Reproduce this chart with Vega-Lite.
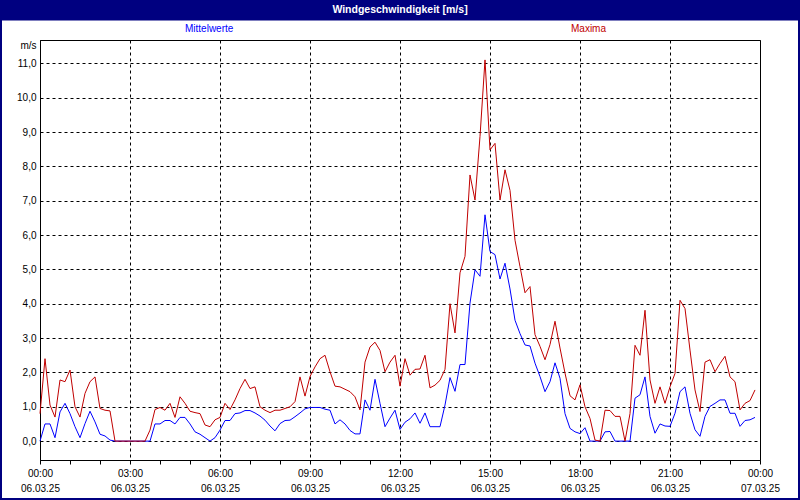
{
  "$schema": "https://vega.github.io/schema/vega-lite/v6.json",
  "autosize": {"type": "none"},
  "padding": {"left": 40, "top": 40, "right": 40, "bottom": 40},
  "width": 720,
  "height": 420,
  "background": "white",
  "config": {
    "font": "Liberation Sans",
    "view": {"stroke": "black", "strokeWidth": 1, "fill": "white"}
  },
  "layer": [
    {
      "data": {"values": [
        {"t":"2025-03-06 00:00","Mittelwerte":0,"Maxima":0.8},
        {"t":"2025-03-06 00:10","Mittelwerte":0.5,"Maxima":2.4},
        {"t":"2025-03-06 00:20","Mittelwerte":0.5,"Maxima":1.05},
        {"t":"2025-03-06 00:30","Mittelwerte":0.1,"Maxima":0.7},
        {"t":"2025-03-06 00:40","Mittelwerte":0.85,"Maxima":1.78},
        {"t":"2025-03-06 00:50","Mittelwerte":1.1,"Maxima":1.73},
        {"t":"2025-03-06 01:00","Mittelwerte":0.8,"Maxima":2.07},
        {"t":"2025-03-06 01:10","Mittelwerte":0.42,"Maxima":1.0},
        {"t":"2025-03-06 01:20","Mittelwerte":0.1,"Maxima":0.7},
        {"t":"2025-03-06 01:30","Mittelwerte":0.51,"Maxima":1.39},
        {"t":"2025-03-06 01:40","Mittelwerte":0.87,"Maxima":1.73},
        {"t":"2025-03-06 01:50","Mittelwerte":0.56,"Maxima":1.87},
        {"t":"2025-03-06 02:00","Mittelwerte":0.2,"Maxima":0.95},
        {"t":"2025-03-06 02:10","Mittelwerte":0.15,"Maxima":0.9},
        {"t":"2025-03-06 02:20","Mittelwerte":0.03,"Maxima":0.88},
        {"t":"2025-03-06 02:30","Mittelwerte":0,"Maxima":0},
        {"t":"2025-03-06 02:40","Mittelwerte":0,"Maxima":0},
        {"t":"2025-03-06 02:50","Mittelwerte":0,"Maxima":0},
        {"t":"2025-03-06 03:00","Mittelwerte":0,"Maxima":0},
        {"t":"2025-03-06 03:10","Mittelwerte":0,"Maxima":0},
        {"t":"2025-03-06 03:20","Mittelwerte":0,"Maxima":0},
        {"t":"2025-03-06 03:30","Mittelwerte":0,"Maxima":0},
        {"t":"2025-03-06 03:40","Mittelwerte":0,"Maxima":0.32},
        {"t":"2025-03-06 03:50","Mittelwerte":0.5,"Maxima":0.92},
        {"t":"2025-03-06 04:00","Mittelwerte":0.5,"Maxima":0.98},
        {"t":"2025-03-06 04:10","Mittelwerte":0.6,"Maxima":0.9},
        {"t":"2025-03-06 04:20","Mittelwerte":0.6,"Maxima":1.1},
        {"t":"2025-03-06 04:30","Mittelwerte":0.5,"Maxima":0.69},
        {"t":"2025-03-06 04:40","Mittelwerte":0.69,"Maxima":1.29},
        {"t":"2025-03-06 04:50","Mittelwerte":0.69,"Maxima":1.1},
        {"t":"2025-03-06 05:00","Mittelwerte":0.5,"Maxima":0.87},
        {"t":"2025-03-06 05:10","Mittelwerte":0.27,"Maxima":0.83},
        {"t":"2025-03-06 05:20","Mittelwerte":0.2,"Maxima":0.8},
        {"t":"2025-03-06 05:30","Mittelwerte":0.1,"Maxima":0.47},
        {"t":"2025-03-06 05:40","Mittelwerte":0,"Maxima":0.42},
        {"t":"2025-03-06 05:50","Mittelwerte":0.1,"Maxima":0.62},
        {"t":"2025-03-06 06:00","Mittelwerte":0.32,"Maxima":0.69},
        {"t":"2025-03-06 06:10","Mittelwerte":0.6,"Maxima":1.1},
        {"t":"2025-03-06 06:20","Mittelwerte":0.6,"Maxima":0.92},
        {"t":"2025-03-06 06:30","Mittelwerte":0.8,"Maxima":1.2},
        {"t":"2025-03-06 06:40","Mittelwerte":0.82,"Maxima":1.53},
        {"t":"2025-03-06 06:50","Mittelwerte":0.89,"Maxima":1.8},
        {"t":"2025-03-06 07:00","Mittelwerte":0.89,"Maxima":1.53},
        {"t":"2025-03-06 07:10","Mittelwerte":0.82,"Maxima":1.58},
        {"t":"2025-03-06 07:20","Mittelwerte":0.73,"Maxima":1.0},
        {"t":"2025-03-06 07:30","Mittelwerte":0.61,"Maxima":0.9},
        {"t":"2025-03-06 07:40","Mittelwerte":0.44,"Maxima":0.83},
        {"t":"2025-03-06 07:50","Mittelwerte":0.3,"Maxima":0.9},
        {"t":"2025-03-06 08:00","Mittelwerte":0.51,"Maxima":0.9},
        {"t":"2025-03-06 08:10","Mittelwerte":0.6,"Maxima":0.95},
        {"t":"2025-03-06 08:20","Mittelwerte":0.61,"Maxima":1.0},
        {"t":"2025-03-06 08:30","Mittelwerte":0.71,"Maxima":1.15},
        {"t":"2025-03-06 08:40","Mittelwerte":0.82,"Maxima":1.87},
        {"t":"2025-03-06 08:50","Mittelwerte":0.94,"Maxima":1.31},
        {"t":"2025-03-06 09:00","Mittelwerte":0.98,"Maxima":1.88},
        {"t":"2025-03-06 09:10","Mittelwerte":0.98,"Maxima":2.16},
        {"t":"2025-03-06 09:20","Mittelwerte":0.98,"Maxima":2.4},
        {"t":"2025-03-06 09:30","Mittelwerte":0.93,"Maxima":2.5},
        {"t":"2025-03-06 09:40","Mittelwerte":0.9,"Maxima":2.02},
        {"t":"2025-03-06 09:50","Mittelwerte":0.5,"Maxima":1.6},
        {"t":"2025-03-06 10:00","Mittelwerte":0.62,"Maxima":1.58},
        {"t":"2025-03-06 10:10","Mittelwerte":0.5,"Maxima":1.51},
        {"t":"2025-03-06 10:20","Mittelwerte":0.31,"Maxima":1.44},
        {"t":"2025-03-06 10:30","Mittelwerte":0.21,"Maxima":1.29},
        {"t":"2025-03-06 10:40","Mittelwerte":0.21,"Maxima":0.91},
        {"t":"2025-03-06 10:50","Mittelwerte":1.2,"Maxima":2.3},
        {"t":"2025-03-06 11:00","Mittelwerte":0.9,"Maxima":2.74},
        {"t":"2025-03-06 11:10","Mittelwerte":1.8,"Maxima":2.88},
        {"t":"2025-03-06 11:20","Mittelwerte":1.1,"Maxima":2.64},
        {"t":"2025-03-06 11:30","Mittelwerte":0.42,"Maxima":2.02},
        {"t":"2025-03-06 11:40","Mittelwerte":0.67,"Maxima":2.3},
        {"t":"2025-03-06 11:50","Mittelwerte":0.9,"Maxima":2.5},
        {"t":"2025-03-06 12:00","Mittelwerte":0.34,"Maxima":1.6},
        {"t":"2025-03-06 12:10","Mittelwerte":0.55,"Maxima":2.4},
        {"t":"2025-03-06 12:20","Mittelwerte":0.65,"Maxima":1.92},
        {"t":"2025-03-06 12:30","Mittelwerte":0.82,"Maxima":2.09},
        {"t":"2025-03-06 12:40","Mittelwerte":0.52,"Maxima":2.1},
        {"t":"2025-03-06 12:50","Mittelwerte":0.82,"Maxima":2.5},
        {"t":"2025-03-06 13:00","Mittelwerte":0.42,"Maxima":1.55},
        {"t":"2025-03-06 13:10","Mittelwerte":0.42,"Maxima":1.63},
        {"t":"2025-03-06 13:20","Mittelwerte":0.42,"Maxima":1.77},
        {"t":"2025-03-06 13:30","Mittelwerte":1.05,"Maxima":2.09},
        {"t":"2025-03-06 13:40","Mittelwerte":1.85,"Maxima":4.0},
        {"t":"2025-03-06 13:50","Mittelwerte":1.45,"Maxima":3.15},
        {"t":"2025-03-06 14:00","Mittelwerte":2.23,"Maxima":4.9},
        {"t":"2025-03-06 14:10","Mittelwerte":2.23,"Maxima":5.38},
        {"t":"2025-03-06 14:20","Mittelwerte":4.02,"Maxima":7.75},
        {"t":"2025-03-06 14:30","Mittelwerte":4.99,"Maxima":7.02},
        {"t":"2025-03-06 14:40","Mittelwerte":4.8,"Maxima":8.87},
        {"t":"2025-03-06 14:50","Mittelwerte":6.59,"Maxima":11.1},
        {"t":"2025-03-06 15:00","Mittelwerte":5.52,"Maxima":8.48},
        {"t":"2025-03-06 15:10","Mittelwerte":5.43,"Maxima":8.67},
        {"t":"2025-03-06 15:20","Mittelwerte":4.72,"Maxima":7.02},
        {"t":"2025-03-06 15:30","Mittelwerte":5.18,"Maxima":7.9},
        {"t":"2025-03-06 15:40","Mittelwerte":4.43,"Maxima":7.3},
        {"t":"2025-03-06 15:50","Mittelwerte":3.52,"Maxima":5.85},
        {"t":"2025-03-06 16:00","Mittelwerte":3.13,"Maxima":5.08},
        {"t":"2025-03-06 16:10","Mittelwerte":2.8,"Maxima":4.32},
        {"t":"2025-03-06 16:20","Mittelwerte":2.77,"Maxima":4.5},
        {"t":"2025-03-06 16:30","Mittelwerte":2.27,"Maxima":3.1},
        {"t":"2025-03-06 16:40","Mittelwerte":1.88,"Maxima":2.76},
        {"t":"2025-03-06 16:50","Mittelwerte":1.44,"Maxima":2.37},
        {"t":"2025-03-06 17:00","Mittelwerte":1.73,"Maxima":2.81},
        {"t":"2025-03-06 17:10","Mittelwerte":2.28,"Maxima":3.49},
        {"t":"2025-03-06 17:20","Mittelwerte":1.83,"Maxima":2.71},
        {"t":"2025-03-06 17:30","Mittelwerte":0.8,"Maxima":1.98},
        {"t":"2025-03-06 17:40","Mittelwerte":0.37,"Maxima":1.32},
        {"t":"2025-03-06 17:50","Mittelwerte":0.27,"Maxima":1.2},
        {"t":"2025-03-06 18:00","Mittelwerte":0.22,"Maxima":1.64},
        {"t":"2025-03-06 18:10","Mittelwerte":0.39,"Maxima":1.0},
        {"t":"2025-03-06 18:20","Mittelwerte":0,"Maxima":0.66},
        {"t":"2025-03-06 18:30","Mittelwerte":0,"Maxima":0.03},
        {"t":"2025-03-06 18:40","Mittelwerte":0,"Maxima":0},
        {"t":"2025-03-06 18:50","Mittelwerte":0.27,"Maxima":0.9},
        {"t":"2025-03-06 19:00","Mittelwerte":0.28,"Maxima":0.89},
        {"t":"2025-03-06 19:10","Mittelwerte":0,"Maxima":0.72},
        {"t":"2025-03-06 19:20","Mittelwerte":0,"Maxima":0.72},
        {"t":"2025-03-06 19:30","Mittelwerte":0,"Maxima":0},
        {"t":"2025-03-06 19:40","Mittelwerte":0,"Maxima":0.8},
        {"t":"2025-03-06 19:50","Mittelwerte":1.25,"Maxima":2.79},
        {"t":"2025-03-06 20:00","Mittelwerte":1.35,"Maxima":2.5},
        {"t":"2025-03-06 20:10","Mittelwerte":1.87,"Maxima":3.81},
        {"t":"2025-03-06 20:20","Mittelwerte":0.72,"Maxima":1.78},
        {"t":"2025-03-06 20:30","Mittelwerte":0.23,"Maxima":1.1},
        {"t":"2025-03-06 20:40","Mittelwerte":0.5,"Maxima":1.58},
        {"t":"2025-03-06 20:50","Mittelwerte":0.44,"Maxima":1.1},
        {"t":"2025-03-06 21:00","Mittelwerte":0.43,"Maxima":1.58},
        {"t":"2025-03-06 21:10","Mittelwerte":0.81,"Maxima":1.97},
        {"t":"2025-03-06 21:20","Mittelwerte":1.44,"Maxima":4.1},
        {"t":"2025-03-06 21:30","Mittelwerte":1.58,"Maxima":3.86},
        {"t":"2025-03-06 21:40","Mittelwerte":0.81,"Maxima":2.65},
        {"t":"2025-03-06 21:50","Mittelwerte":0.33,"Maxima":1.49},
        {"t":"2025-03-06 22:00","Mittelwerte":0.14,"Maxima":0.86},
        {"t":"2025-03-06 22:10","Mittelwerte":0.72,"Maxima":2.3},
        {"t":"2025-03-06 22:20","Mittelwerte":1.01,"Maxima":2.37},
        {"t":"2025-03-06 22:30","Mittelwerte":1.1,"Maxima":2.02},
        {"t":"2025-03-06 22:40","Mittelwerte":1.2,"Maxima":2.26},
        {"t":"2025-03-06 22:50","Mittelwerte":1.2,"Maxima":2.47},
        {"t":"2025-03-06 23:00","Mittelwerte":0.81,"Maxima":1.87},
        {"t":"2025-03-06 23:10","Mittelwerte":0.81,"Maxima":1.73},
        {"t":"2025-03-06 23:20","Mittelwerte":0.43,"Maxima":0.91},
        {"t":"2025-03-06 23:30","Mittelwerte":0.6,"Maxima":1.1},
        {"t":"2025-03-06 23:40","Mittelwerte":0.62,"Maxima":1.18},
        {"t":"2025-03-06 23:50","Mittelwerte":0.69,"Maxima":1.49}
      ]},
      "transform": [{"fold": ["Mittelwerte", "Maxima"], "as": ["s", "v"]}],
      "mark": {"type": "line", "strokeWidth": 1},
      "encoding": {
        "x": {
          "field": "t", "type": "temporal",
          "scale": {"domain": [{"year": 2025, "month": 3, "date": 6, "hours": 0}, {"year": 2025, "month": 3, "date": 7, "hours": 0}], "nice": false},
          "axis": {
            "orient": "bottom",
            "title": null,
            "values": [
              {"year": 2025, "month": 3, "date": 6, "hours": 0}, {"year": 2025, "month": 3, "date": 6, "hours": 1}, {"year": 2025, "month": 3, "date": 6, "hours": 2},
              {"year": 2025, "month": 3, "date": 6, "hours": 3}, {"year": 2025, "month": 3, "date": 6, "hours": 4}, {"year": 2025, "month": 3, "date": 6, "hours": 5},
              {"year": 2025, "month": 3, "date": 6, "hours": 6}, {"year": 2025, "month": 3, "date": 6, "hours": 7}, {"year": 2025, "month": 3, "date": 6, "hours": 8},
              {"year": 2025, "month": 3, "date": 6, "hours": 9}, {"year": 2025, "month": 3, "date": 6, "hours": 10}, {"year": 2025, "month": 3, "date": 6, "hours": 11},
              {"year": 2025, "month": 3, "date": 6, "hours": 12}, {"year": 2025, "month": 3, "date": 6, "hours": 13}, {"year": 2025, "month": 3, "date": 6, "hours": 14},
              {"year": 2025, "month": 3, "date": 6, "hours": 15}, {"year": 2025, "month": 3, "date": 6, "hours": 16}, {"year": 2025, "month": 3, "date": 6, "hours": 17},
              {"year": 2025, "month": 3, "date": 6, "hours": 18}, {"year": 2025, "month": 3, "date": 6, "hours": 19}, {"year": 2025, "month": 3, "date": 6, "hours": 20},
              {"year": 2025, "month": 3, "date": 6, "hours": 21}, {"year": 2025, "month": 3, "date": 6, "hours": 22}, {"year": 2025, "month": 3, "date": 6, "hours": 23},
              {"year": 2025, "month": 3, "date": 7, "hours": 0}
            ],
            "labelExpr": "hours(datum.value) % 3 == 0 ? [timeFormat(datum.value, '%H:%M'), timeFormat(datum.value, '%d.%m.%y')] : ''",
            "labelOverlap": false,
            "labelFlush": false,
            "labelFont": "Liberation Sans",
            "labelFontSize": 10,
            "labelColor": "black",
            "labelLineHeight": 15,
            "labelPadding": 4,
            "labelBaseline": "top",
            "tickSize": 4,
            "tickColor": "black",
            "domainColor": "black",
            "grid": true,
            "gridColor": "black",
            "gridDash": [3, 3],
            "gridOpacity": {"condition": {"test": "hours(datum.value) % 3 == 0", "value": 1}, "value": 0}
          }
        },
        "y": {
          "field": "v", "type": "quantitative",
          "scale": {"domain": [-0.55, 11.68], "nice": false, "zero": false},
          "axis": {
            "orient": "left",
            "values": [0, 1, 2, 3, 4, 5, 6, 7, 8, 9, 10, 11],
            "labelExpr": "replace(format(datum.value, '.1f'), '.', ',')",
            "labelFont": "Liberation Sans",
            "labelFontSize": 10,
            "labelColor": "black",
            "labelPadding": 4,
            "ticks": false,
            "domainColor": "black",
            "grid": true,
            "gridColor": "black",
            "gridDash": [3, 3],
            "title": "m/s",
            "titleAngle": 0,
            "titleAlign": "right",
            "titleBaseline": "middle",
            "titleX": -4,
            "titleY": 5,
            "titleFont": "Liberation Sans",
            "titleFontSize": 10,
            "titleFontWeight": "normal",
            "titleColor": "black"
          }
        },
        "color": {
          "field": "s", "type": "nominal",
          "scale": {"domain": ["Mittelwerte", "Maxima"], "range": ["#0000ff", "#c00000"]},
          "legend": {
            "title": null,
            "orient": "none",
            "legendX": 135,
            "legendY": -16,
            "direction": "horizontal",
            "symbolOpacity": 0,
            "symbolSize": 1,
            "labelOffset": 0,
            "columnPadding": 327,
            "labelFont": "Liberation Sans",
            "labelFontSize": 10,
            "encode": {"labels": {"update": {"fill": {"scale": "color", "field": "value"}}}}
          }
        }
      }
    },
    {
      "data": {"values": [{"bar": "title"}]},
      "mark": {"type": "rect", "fill": "#000080", "clip": false},
      "encoding": {
        "x": {"datum": {"year": 2025, "month": 3, "date": 5, "hours": 22}, "type": "temporal",
          "axis": {"orient": "bottom", "title": null, "values": [
              {"year": 2025, "month": 3, "date": 6, "hours": 0}, {"year": 2025, "month": 3, "date": 6, "hours": 1}, {"year": 2025, "month": 3, "date": 6, "hours": 2},
              {"year": 2025, "month": 3, "date": 6, "hours": 3}, {"year": 2025, "month": 3, "date": 6, "hours": 4}, {"year": 2025, "month": 3, "date": 6, "hours": 5},
              {"year": 2025, "month": 3, "date": 6, "hours": 6}, {"year": 2025, "month": 3, "date": 6, "hours": 7}, {"year": 2025, "month": 3, "date": 6, "hours": 8},
              {"year": 2025, "month": 3, "date": 6, "hours": 9}, {"year": 2025, "month": 3, "date": 6, "hours": 10}, {"year": 2025, "month": 3, "date": 6, "hours": 11},
              {"year": 2025, "month": 3, "date": 6, "hours": 12}, {"year": 2025, "month": 3, "date": 6, "hours": 13}, {"year": 2025, "month": 3, "date": 6, "hours": 14},
              {"year": 2025, "month": 3, "date": 6, "hours": 15}, {"year": 2025, "month": 3, "date": 6, "hours": 16}, {"year": 2025, "month": 3, "date": 6, "hours": 17},
              {"year": 2025, "month": 3, "date": 6, "hours": 18}, {"year": 2025, "month": 3, "date": 6, "hours": 19}, {"year": 2025, "month": 3, "date": 6, "hours": 20},
              {"year": 2025, "month": 3, "date": 6, "hours": 21}, {"year": 2025, "month": 3, "date": 6, "hours": 22}, {"year": 2025, "month": 3, "date": 6, "hours": 23},
              {"year": 2025, "month": 3, "date": 7, "hours": 0}
            ]}},
        "x2": {"datum": {"year": 2025, "month": 3, "date": 7, "hours": 2}},
        "y": {"datum": 13.5, "type": "quantitative", "axis": {"orient": "left", "title": "m/s", "values": [0, 1, 2, 3, 4, 5, 6, 7, 8, 9, 10, 11]}},
        "y2": {"datum": 12.25}
      }
    },
    {
      "data": {"values": [{"bar": "frame"}]},
      "mark": {"type": "rect", "filled": false, "stroke": "#000080", "strokeWidth": 4, "clip": false},
      "encoding": {
        "x": {"datum": {"year": 2025, "month": 3, "date": 5, "hours": 22, "minutes": 40}, "type": "temporal",
          "axis": {"orient": "bottom", "title": null, "values": [
              {"year": 2025, "month": 3, "date": 6, "hours": 0}, {"year": 2025, "month": 3, "date": 6, "hours": 1}, {"year": 2025, "month": 3, "date": 6, "hours": 2},
              {"year": 2025, "month": 3, "date": 6, "hours": 3}, {"year": 2025, "month": 3, "date": 6, "hours": 4}, {"year": 2025, "month": 3, "date": 6, "hours": 5},
              {"year": 2025, "month": 3, "date": 6, "hours": 6}, {"year": 2025, "month": 3, "date": 6, "hours": 7}, {"year": 2025, "month": 3, "date": 6, "hours": 8},
              {"year": 2025, "month": 3, "date": 6, "hours": 9}, {"year": 2025, "month": 3, "date": 6, "hours": 10}, {"year": 2025, "month": 3, "date": 6, "hours": 11},
              {"year": 2025, "month": 3, "date": 6, "hours": 12}, {"year": 2025, "month": 3, "date": 6, "hours": 13}, {"year": 2025, "month": 3, "date": 6, "hours": 14},
              {"year": 2025, "month": 3, "date": 6, "hours": 15}, {"year": 2025, "month": 3, "date": 6, "hours": 16}, {"year": 2025, "month": 3, "date": 6, "hours": 17},
              {"year": 2025, "month": 3, "date": 6, "hours": 18}, {"year": 2025, "month": 3, "date": 6, "hours": 19}, {"year": 2025, "month": 3, "date": 6, "hours": 20},
              {"year": 2025, "month": 3, "date": 6, "hours": 21}, {"year": 2025, "month": 3, "date": 6, "hours": 22}, {"year": 2025, "month": 3, "date": 6, "hours": 23},
              {"year": 2025, "month": 3, "date": 7, "hours": 0}
            ]}},
        "x2": {"datum": {"year": 2025, "month": 3, "date": 7, "hours": 1, "minutes": 20}},
        "y": {"datum": 12.8448, "type": "quantitative", "axis": {"orient": "left", "title": "m/s", "values": [0, 1, 2, 3, 4, 5, 6, 7, 8, 9, 10, 11]}},
        "y2": {"datum": -1.7147}
      }
    },
    {
      "data": {"values": [{"title": "Windgeschwindigkeit [m/s]"}]},
      "mark": {"type": "text", "color": "white", "font": "Liberation Sans", "fontSize": 10.5, "fontWeight": "bold", "align": "center", "baseline": "middle", "clip": false},
      "encoding": {
        "x": {"datum": {"year": 2025, "month": 3, "date": 6, "hours": 12}, "type": "temporal",
          "axis": {"orient": "bottom", "title": null, "values": [
              {"year": 2025, "month": 3, "date": 6, "hours": 0}, {"year": 2025, "month": 3, "date": 6, "hours": 1}, {"year": 2025, "month": 3, "date": 6, "hours": 2},
              {"year": 2025, "month": 3, "date": 6, "hours": 3}, {"year": 2025, "month": 3, "date": 6, "hours": 4}, {"year": 2025, "month": 3, "date": 6, "hours": 5},
              {"year": 2025, "month": 3, "date": 6, "hours": 6}, {"year": 2025, "month": 3, "date": 6, "hours": 7}, {"year": 2025, "month": 3, "date": 6, "hours": 8},
              {"year": 2025, "month": 3, "date": 6, "hours": 9}, {"year": 2025, "month": 3, "date": 6, "hours": 10}, {"year": 2025, "month": 3, "date": 6, "hours": 11},
              {"year": 2025, "month": 3, "date": 6, "hours": 12}, {"year": 2025, "month": 3, "date": 6, "hours": 13}, {"year": 2025, "month": 3, "date": 6, "hours": 14},
              {"year": 2025, "month": 3, "date": 6, "hours": 15}, {"year": 2025, "month": 3, "date": 6, "hours": 16}, {"year": 2025, "month": 3, "date": 6, "hours": 17},
              {"year": 2025, "month": 3, "date": 6, "hours": 18}, {"year": 2025, "month": 3, "date": 6, "hours": 19}, {"year": 2025, "month": 3, "date": 6, "hours": 20},
              {"year": 2025, "month": 3, "date": 6, "hours": 21}, {"year": 2025, "month": 3, "date": 6, "hours": 22}, {"year": 2025, "month": 3, "date": 6, "hours": 23},
              {"year": 2025, "month": 3, "date": 7, "hours": 0}
            ]}},
        "y": {"datum": 12.54, "type": "quantitative", "axis": {"orient": "left", "title": "m/s", "values": [0, 1, 2, 3, 4, 5, 6, 7, 8, 9, 10, 11]}},
        "text": {"field": "title"}
      }
    }
  ]
}
